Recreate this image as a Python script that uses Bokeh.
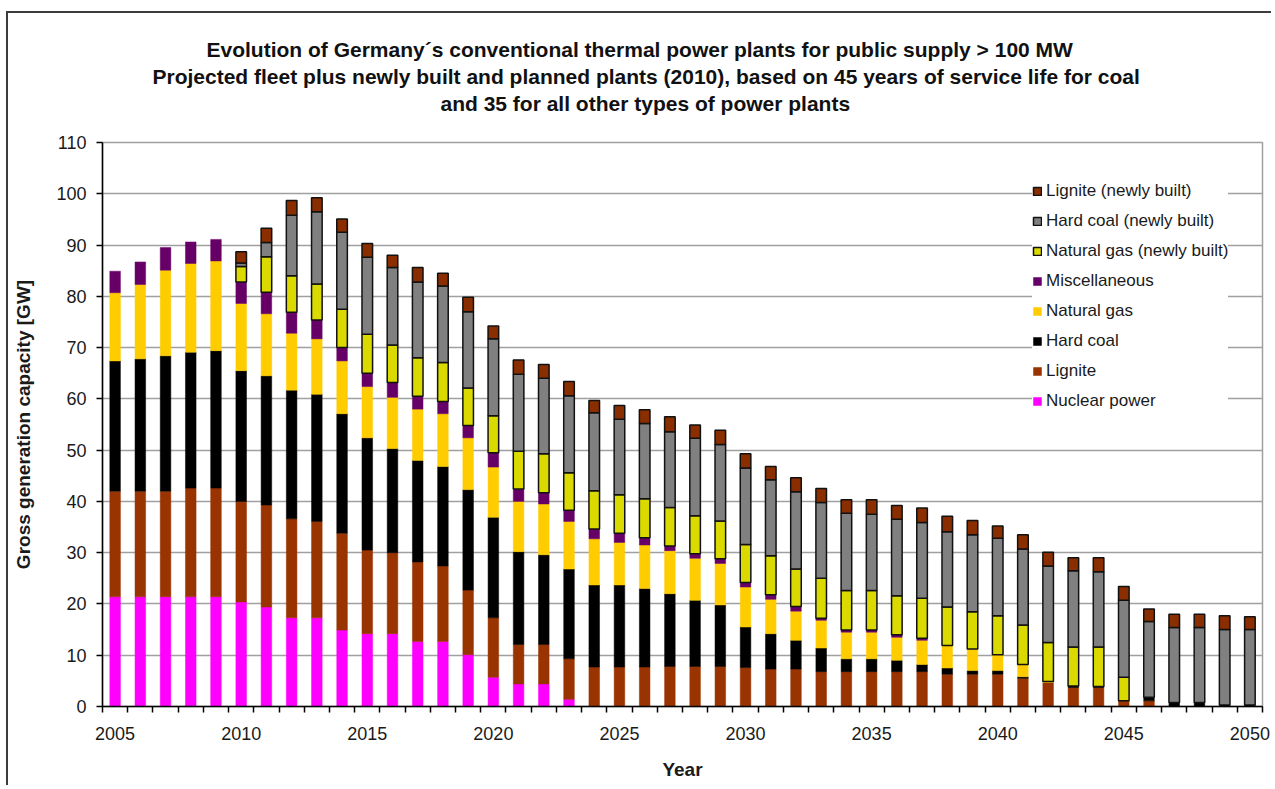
import numpy as np
from bokeh.plotting import figure
from bokeh.models import Range1d, FixedTicker, Legend, LegendItem, Title, ColumnDataSource
from bokeh.embed import file_html
from bokeh.resources import INLINE

years = list(range(2005, 2051))

nuclear = [21.4, 21.4, 21.4, 21.4, 21.4, 20.4, 19.4, 17.3, 17.3, 14.9,
           14.2, 14.2, 12.7, 12.7, 10.1, 5.7, 4.4, 4.4, 1.4, 0,
           0, 0, 0, 0, 0, 0, 0, 0, 0, 0,
           0, 0, 0, 0, 0, 0, 0, 0, 0, 0,
           0, 0, 0, 0, 0, 0]
lignite = [20.6, 20.6, 20.6, 21.2, 21.2, 19.6, 19.9, 19.3, 18.8, 18.9,
           16.3, 15.8, 15.5, 14.7, 12.6, 11.6, 7.7, 7.7, 7.9, 7.7,
           7.7, 7.7, 7.8, 7.8, 7.8, 7.6, 7.3, 7.3, 6.8, 6.8,
           6.8, 6.8, 6.8, 6.3, 6.3, 6.3, 5.5, 4.7, 3.7, 3.7,
           1.1, 1.1, 0, 0, 0, 0]
hard_coal = [25.4, 25.8, 26.4, 26.5, 26.8, 25.5, 25.2, 25.1, 24.8, 23.3,
             21.9, 20.3, 19.8, 19.4, 19.6, 19.6, 18.1, 17.5, 17.5, 16.0,
             16.0, 15.3, 14.2, 12.9, 12.0, 7.9, 6.9, 5.6, 4.6, 2.5,
             2.5, 2.2, 1.4, 1.2, 0.7, 0.7, 0.3, 0.0, 0.3, 0.2,
             0, 0.7, 0.8, 0.8, 0.3, 0.3]
natural_gas = [13.3, 14.5, 16.7, 17.3, 17.5, 13.1, 12.1, 11.1, 10.8, 10.3,
               10.0, 10.0, 10.0, 10.3, 10.1, 9.8, 9.8, 9.9, 9.3, 9.0,
               8.3, 8.5, 8.4, 8.2, 8.1, 7.8, 6.7, 5.7, 5.4, 5.2,
               5.2, 4.5, 4.7, 4.4, 4.2, 3.1, 2.4, 0.2, 0, 0,
               0, 0, 0, 0, 0, 0]
miscellaneous = [4.2, 4.4, 4.4, 4.2, 4.2, 4.2, 4.2, 4.1, 3.7, 2.6,
                 2.6, 2.9, 2.5, 2.4, 2.4, 2.8, 2.4, 2.2, 2.2, 1.9,
                 1.8, 1.4, 0.9, 0.9, 0.9, 0.9, 0.9, 0.9, 0.4, 0.4,
                 0.4, 0.5, 0.4, 0, 0, 0, 0, 0, 0, 0,
                 0, 0, 0, 0, 0, 0]
natural_gas_new = [0, 0, 0, 0, 0, 3.0, 6.9, 7.1, 7.0, 7.5,
                   7.6, 7.3, 7.5, 7.6, 7.3, 7.2, 7.4, 7.6, 7.3, 7.5,
                   7.5, 7.6, 7.5, 7.4, 7.4, 7.4, 7.6, 7.3, 7.8, 7.7,
                   7.7, 7.6, 7.8, 7.5, 7.3, 7.6, 7.7, 7.6, 7.6, 7.7,
                   4.6, 0, 0, 0, 0, 0]
hard_coal_new = [0, 0, 0, 0, 0, 0.7, 2.8, 11.8, 14.1, 15.0,
                 15.0, 15.1, 14.8, 14.9, 14.9, 15.0, 15.0, 14.7, 15.0, 15.2,
                 14.7, 14.7, 14.8, 15.1, 14.9, 14.9, 14.8, 15.1, 14.8, 15.1,
                 14.9, 14.9, 14.8, 14.7, 15.0, 15.1, 14.8, 14.9, 14.9, 14.7,
                 15.0, 14.8, 14.6, 14.6, 14.7, 14.7]
lignite_new = [0, 0, 0, 0, 0, 2.2, 2.8, 2.9, 2.7, 2.6,
               2.7, 2.4, 2.8, 2.5, 2.8, 2.5, 2.8, 2.7, 2.8, 2.4,
               2.7, 2.7, 2.9, 2.6, 2.8, 2.8, 2.6, 2.7, 2.7, 2.6,
               2.8, 2.7, 2.8, 3.0, 2.8, 2.4, 2.8, 2.7, 2.5, 2.7,
               2.7, 2.4, 2.6, 2.6, 2.7, 2.5]

series_names = ["Nuclear power", "Lignite", "Hard coal", "Natural gas",
                "Miscellaneous", "Natural gas (newly built)",
                "Hard coal (newly built)", "Lignite (newly built)"]
series_values = [nuclear, lignite, hard_coal, natural_gas, miscellaneous,
                 natural_gas_new, hard_coal_new, lignite_new]
series_colors = ["#FF00FF", "#993300", "#000000", "#FFCC00", "#660066",
                 "#DADA00", "#808080", "#8A2E00"]
series_outlined = [False, False, False, False, False, True, True, True]

y_ticks = list(range(0, 111, 10))
x_label_years = list(range(2005, 2051, 5))

title_lines = [
    "Evolution of Germany\u00b4s conventional thermal power plants for public supply > 100 MW",
    "Projected fleet plus newly built and planned plants (2010), based on 45 years of service life for coal",
    "and 35 for all other types of power plants",
]
x_title = "Year"
y_title = "Gross generation capacity [GW]"

FONT = "Liberation Sans"

p = figure(width=1265, height=774, output_backend="svg", toolbar_location=None,
           title=None,
           x_range=Range1d(2004.5, 2050.5), y_range=Range1d(0, 110),
           min_border_left=94, min_border_right=11, min_border_top=129,
           min_border_bottom=81)
p.styles = {"border-left": "2px solid #3c3c3c", "border-top": "2px solid #3c3c3c",
            "margin-left": "6px", "margin-top": "11px"}
p.background_fill_color = "white"
p.border_fill_color = "white"
p.outline_line_color = "#a0a0a0"
p.outline_line_width = 1.5

vals = np.array(series_values, dtype=float)
cum = np.cumsum(vals, axis=0)
bottoms = np.vstack([np.zeros(vals.shape[1]), cum[:-1]])
yrs = np.array(years, dtype=float)

renderers = []
for i, name in enumerate(series_names):
    mask = vals[i] > 0
    src = ColumnDataSource(dict(x=yrs[mask], bottom=bottoms[i][mask],
                                top=cum[i][mask]))
    if series_outlined[i]:
        r = p.vbar(x="x", bottom="bottom", top="top", width=0.42, source=src,
                   fill_color=series_colors[i], line_color="#111111",
                   line_width=1.5)
    else:
        r = p.vbar(x="x", bottom="bottom", top="top", width=0.42, source=src,
                   fill_color=series_colors[i], line_color=series_colors[i],
                   line_width=0.5)
    renderers.append(r)

items = [LegendItem(label=series_names[i], renderers=[renderers[i]])
         for i in range(len(series_names))][::-1]
legend = Legend(items=items, location=(930, 295), orientation="vertical",
                label_text_font=FONT, label_text_font_size="17px",
                label_text_color="#1a1a1a",
                glyph_width=10, glyph_height=10, label_height=20,
                label_standoff=4, spacing=10, padding=8, margin=0,
                border_line_color=None, background_fill_color="white",
                background_fill_alpha=1.0)
p.add_layout(legend)

# axes
xa = p.xaxis[0]
xa.ticker = FixedTicker(ticks=x_label_years,
                        minor_ticks=[y - 0.5 for y in years] + [years[-1] + 0.5])
xa.major_tick_line_color = None
xa.major_tick_out = 6
xa.major_tick_in = 0
xa.minor_tick_out = 6
xa.minor_tick_in = 0
xa.minor_tick_line_color = "black"
xa.minor_tick_line_width = 1.5
xa.major_label_standoff = 14
xa.axis_label = x_title
xa.axis_label_standoff = 16

ya = p.yaxis[0]
ya.ticker = FixedTicker(ticks=y_ticks)
ya.major_tick_out = 6
ya.major_tick_in = 0
ya.minor_tick_line_color = None
ya.major_label_standoff = 10
ya.axis_label = y_title
ya.axis_label_standoff = 19

for ax in (xa, ya):
    ax.axis_line_color = "black"
    ax.axis_line_width = 1.5
    ax.major_tick_line_width = 1.5
    ax.major_label_text_font = FONT
    ax.major_label_text_font_size = "18px"
    ax.major_label_text_color = "#1a1a1a"
    ax.axis_label_text_font = FONT
    ax.axis_label_text_font_size = "19px"
    ax.axis_label_text_font_style = "bold"
    ax.axis_label_text_color = "#1a1a1a"

p.ygrid.grid_line_color = "#a0a0a0"
p.ygrid.grid_line_width = 1.5
p.xgrid.grid_line_color = None

# title block: a blank spacer nearest the frame, then the three lines
p.add_layout(Title(text=" ", standoff=2, text_font=FONT,
                   text_font_size="21px", text_font_style="bold"), "above")
title_offsets = [104, 50, 338]
for txt, off in list(zip(title_lines, title_offsets))[::-1]:
    p.add_layout(Title(text=txt, align="left", offset=off, standoff=2,
                       text_font=FONT, text_font_size="21px",
                       text_font_style="bold", text_color="#111111"), "above")

open("out.html", "w").write(file_html(p, INLINE))
